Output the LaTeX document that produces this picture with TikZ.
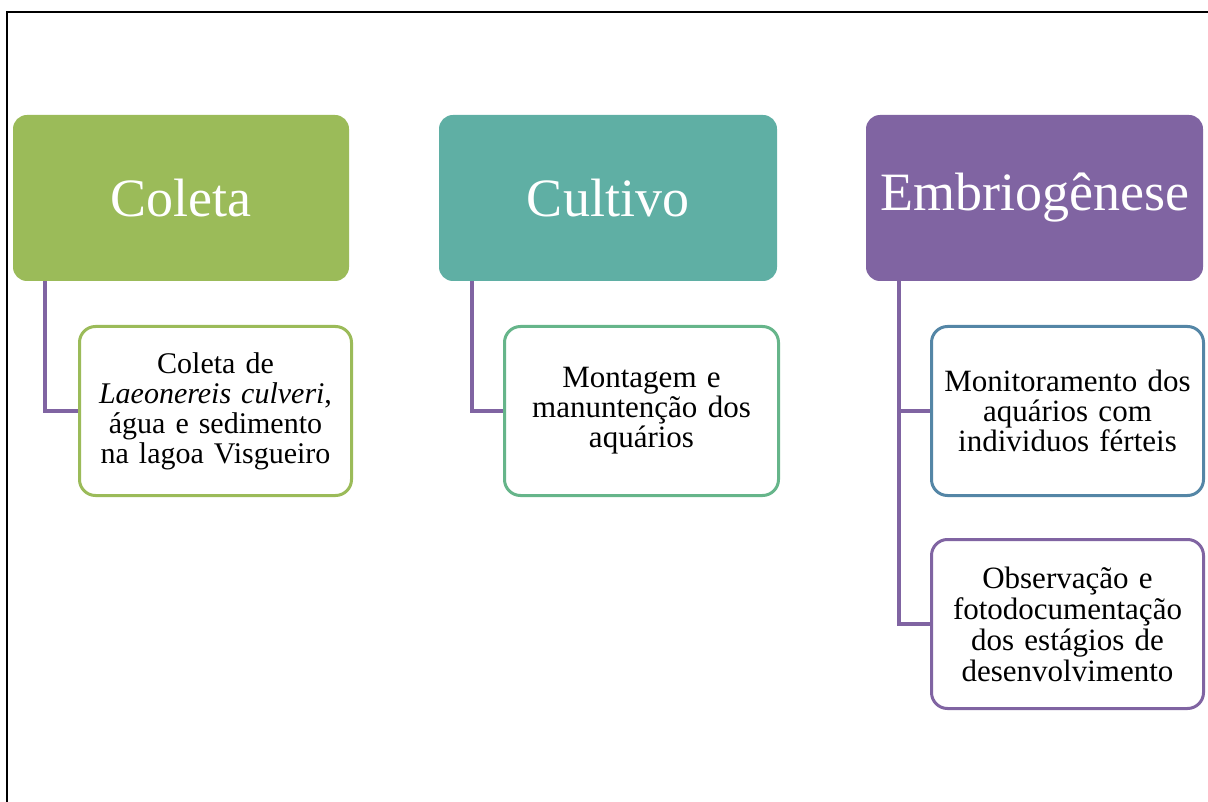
\documentclass[tikz,border=0pt]{standalone}
\usepackage{fontspec}
\setmainfont{Liberation Serif}
\definecolor{verde}{HTML}{9BBB59}
\definecolor{agua}{HTML}{5FAFA4}
\definecolor{roxo}{HTML}{8064A2}
\definecolor{verdeagua}{HTML}{66B58A}
\definecolor{azulaco}{HTML}{5486A6}
\begin{document}
\begin{tikzpicture}[x=1pt,y=-1pt,
    etapa/.style={rounded corners=14pt, minimum height=166pt, text=white,
        font=\fontsize{54}{58}\selectfont, inner sep=0pt},
    tarefa/.style={draw, line width=3pt, rounded corners=16pt, fill=white,
        minimum width=272pt, minimum height=169pt, text width=268pt, align=center,
        font=\fontsize{30}{30}\selectfont, inner sep=0pt},
    ligacao/.style={roxo, line width=3.5pt}]
    \useasboundingbox (0,0) rectangle (1208,802);
    % moldura
    \draw[line width=2.5pt] (7,802) -- (7,12) -- (1208,12);

    % etapas
    \node[etapa, fill=verde, minimum width=336pt] (coleta) at (181,198) {Coleta};
    \node[etapa, fill=agua, minimum width=338pt] (cultivo) at (608,198) {Cultivo};
    \node[etapa, fill=roxo, minimum width=337pt] (embrio) at (1034.5,198) {Embriogênese};

    % tarefas
    \node[tarefa, draw=verde] (coletaA) at (215.5,411)
        {Coleta de\\ \textit{Laeonereis culveri},\\ água e sedimento\\ na lagoa Visgueiro};
    \node[tarefa, draw=verdeagua, minimum width=274pt, font=\fontsize{31}{30}\selectfont] (cultivoA) at (641.5,411)
        {Montagem e\\ manuntenção dos\\ aquários};
    \node[tarefa, draw=azulaco, font=\fontsize{31}{30}\selectfont] (embrioA) at (1067.5,411)
        {Monitoramento dos\\ aquários com\\ individuos férteis};
    \node[tarefa, draw=roxo, font=\fontsize{31}{31}\selectfont] (embrioB) at (1067.5,624)
        {Observação e\\ fotodocumentação\\ dos estágios de\\ desenvolvimento};

    % ligacoes
    \draw[ligacao] ([xshift=-136pt]coleta.south) |- (coletaA.west);
    \draw[ligacao] ([xshift=-136pt]cultivo.south) |- (cultivoA.west);
    \draw[ligacao] ([xshift=-135.5pt]embrio.south) |- (embrioA.west);
    \draw[ligacao] ([xshift=-135.5pt]embrio.south) |- (embrioB.west);
\end{tikzpicture}
\end{document}
